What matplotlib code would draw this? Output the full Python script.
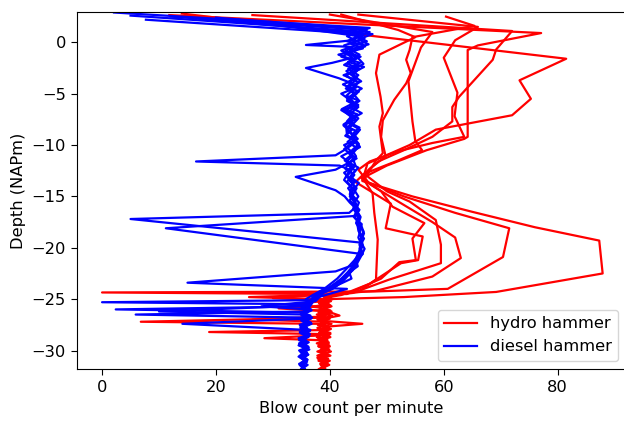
"""Blow count vs depth for hydro- and diesel-hammer driven piles."""

import matplotlib
matplotlib.use("Agg")
import matplotlib.pyplot as plt  # noqa: E402

plt.rcParams["font.size"] = 11.7

# each trace: (blow count per minute, depth NAPm)
HYDRO_A = [
    (14.0, 2.8), (81.5, -1.6), (73.3, -3.7), (75.3, -5.5), (72.0, -7.1), (58.6, -8.5),
    (54.0, -10.0), (46.6, -11.8), (45.7, -13.5), (54.5, -15.0), (65.0, -16.5), (76.0, -18.0),
    (87.3, -19.3), (87.9, -22.5), (69.2, -24.3), (53.0, -24.8), (39.5, -25.0), (38.2, -25.3),
    (40.1, -25.6), (38.8, -25.9), (39.6, -26.2), (41.7, -26.6), (39.8, -26.8), (38.5, -27.1),
    (45.7, -27.4), (38.9, -27.7), (39.4, -28.0), (38.1, -28.3), (39.9, -28.6), (38.6, -28.9),
    (39.2, -29.2), (38.0, -29.5), (39.7, -29.8), (38.4, -30.1), (39.1, -30.4), (37.8, -30.7),
    (39.5, -31.0), (38.3, -31.3), (39.0, -31.6), (38.6, -31.8),
]
HYDRO_B = [
    (26.4, 2.65), (72.0, 1.1), (69.2, -0.7), (68.6, -1.7), (62.7, -5.3), (61.5, -6.3),
    (61.5, -7.7), (58.0, -9.2), (53.0, -10.5), (48.5, -11.6), (46.5, -12.6), (45.7, -13.4),
    (53.0, -15.0), (62.0, -16.6), (71.5, -18.1), (70.4, -20.9), (60.7, -24.0), (48.0, -24.25),
    (0.0, -24.35), (38.5, -24.5), (40.2, -24.8), (38.6, -25.1), (39.8, -25.4), (37.6, -25.7),
    (39.3, -26.0), (38.0, -26.3), (40.4, -26.6), (38.7, -26.9), (39.5, -27.2), (37.9, -27.5),
    (39.9, -27.8), (38.4, -28.1), (39.2, -28.4), (37.7, -28.7), (39.6, -29.0), (38.2, -29.3),
    (40.0, -29.6), (38.8, -29.9), (39.3, -30.2), (37.8, -30.5), (39.7, -30.8), (38.5, -31.1),
    (39.4, -31.4), (38.1, -31.8),
]
HYDRO_C = [
    (11.8, 2.65), (77.1, 0.9), (66.0, -0.3), (64.2, -0.75), (64.2, -9.2), (63.6, -9.4),
    (57.0, -10.5), (50.0, -12.0), (46.5, -13.0), (50.0, -14.5), (54.0, -15.5), (58.6, -17.3),
    (59.5, -19.7), (59.5, -21.5), (50.4, -23.1), (44.0, -24.4), (39.0, -24.7), (40.5, -25.0),
    (38.3, -25.3), (39.7, -25.6), (31.0, -25.9), (40.3, -26.2), (38.2, -26.5), (39.4, -26.8),
    (6.8, -27.2), (38.0, -27.4), (39.8, -27.7), (38.5, -28.0), (40.1, -28.3), (38.9, -28.6),
    (39.5, -28.9), (38.2, -29.2), (39.9, -29.5), (38.6, -29.8), (40.2, -30.1), (38.8, -30.4),
    (39.3, -30.7), (38.0, -31.0), (39.6, -31.3), (38.7, -31.8),
]
HYDRO_D = [
    (60.4, 2.5), (65.4, 1.6), (54.5, 0.5), (54.0, -0.75), (53.4, -1.7), (54.2, -3.0),
    (53.4, -4.0), (51.3, -5.6), (49.3, -7.6), (49.0, -9.2), (49.8, -11.1), (47.0, -12.3),
    (45.5, -13.2), (49.0, -14.5), (51.0, -16.0), (56.6, -17.6), (54.5, -19.1), (55.1, -21.2),
    (52.2, -21.4), (49.0, -23.0), (43.0, -24.5), (25.8, -24.8), (39.2, -25.0), (38.0, -25.3),
    (39.9, -25.6), (33.5, -25.9), (40.0, -26.2), (37.7, -26.5), (39.1, -26.8), (38.3, -27.1),
    (40.3, -27.4), (38.8, -27.7), (39.6, -28.0), (38.1, -28.3), (39.3, -28.6), (37.9, -28.9),
    (39.8, -29.2), (38.5, -29.5), (39.4, -29.8), (37.8, -30.1), (39.7, -30.4), (38.4, -30.7),
    (40.0, -31.0), (38.6, -31.3), (39.2, -31.8),
]
HYDRO_E = [
    (42.0, 2.7), (52.0, 1.2), (55.0, 0.5), (48.7, -1.2), (48.1, -3.0), (48.9, -5.3),
    (49.3, -6.9), (48.7, -8.2), (49.3, -10.8), (48.1, -11.5), (46.0, -13.4), (47.5, -14.7),
    (47.8, -16.6), (48.4, -19.2), (48.1, -23.1), (45.0, -24.3), (38.5, -24.6), (40.0, -24.9),
    (38.7, -25.2), (33.0, -25.5), (37.9, -25.8), (40.1, -26.1), (38.6, -26.4), (39.2, -26.7),
    (37.8, -27.0), (39.7, -27.3), (38.3, -27.6), (40.2, -27.9), (38.9, -28.2), (39.5, -28.5),
    (28.5, -28.8), (38.4, -29.0), (39.8, -29.3), (38.0, -29.6), (39.3, -29.9), (38.7, -30.2),
    (40.1, -30.5), (38.2, -30.8), (39.6, -31.1), (38.5, -31.4), (39.1, -31.8),
]
HYDRO_F = [
    (40.0, 2.7), (58.0, 1.0), (56.0, -0.5), (53.8, -3.8), (54.5, -7.7), (55.0, -9.6),
    (56.2, -10.5), (52.0, -11.5), (46.0, -12.8), (44.5, -13.6), (50.7, -15.7), (49.8, -18.1),
    (56.3, -18.9), (55.5, -21.2), (52.5, -21.5), (47.0, -23.5), (42.0, -24.6), (38.9, -24.9),
    (40.2, -25.2), (38.3, -25.5), (39.5, -25.8), (38.0, -26.1), (40.0, -26.4), (38.6, -26.7),
    (26.4, -27.0), (39.1, -27.2), (37.9, -27.5), (39.6, -27.8), (38.2, -28.1), (40.1, -28.4),
    (38.7, -28.7), (39.3, -29.0), (37.7, -29.3), (39.8, -29.6), (38.4, -29.9), (39.0, -30.2),
    (38.1, -30.5), (39.5, -30.8), (38.8, -31.1), (39.9, -31.4), (38.3, -31.8),
]
HYDRO_G = [
    (45.0, 2.7), (66.0, 1.5), (62.0, 0.2), (60.0, -1.5), (62.4, -4.9), (61.9, -7.2),
    (63.6, -9.2), (58.0, -9.8), (52.0, -10.6), (47.0, -11.6), (45.0, -12.4), (47.0, -13.8),
    (52.0, -15.5), (58.0, -17.5), (62.0, -19.0), (63.0, -21.0), (58.0, -22.8), (48.0, -24.2),
    (30.0, -24.9), (39.4, -25.1), (38.1, -25.4), (40.3, -25.7), (38.8, -26.0), (39.6, -26.3),
    (38.0, -26.6), (40.0, -26.9), (38.5, -27.2), (39.2, -27.5), (37.8, -27.8), (39.7, -28.0),
    (18.8, -28.2), (38.6, -28.4), (40.1, -28.7), (38.3, -29.0), (39.5, -29.3), (38.0, -29.6),
    (39.9, -29.9), (38.7, -30.2), (39.2, -30.5), (37.9, -30.8), (39.6, -31.1), (38.4, -31.4),
    (39.0, -31.8),
]

DIESEL_A = [
    (2.1, 2.9), (47.0, 1.4), (44.2, 0.9), (46.1, 0.4), (43.5, -0.1), (45.8, -0.6),
    (42.7, -1.0), (44.9, -1.5), (43.1, -2.1), (45.3, -2.6), (42.4, -3.2), (44.6, -3.7),
    (43.0, -4.3), (45.1, -4.8), (43.6, -5.4), (44.2, -5.9), (42.1, -6.5), (44.8, -7.0),
    (43.3, -7.6), (42.6, -8.1), (44.9, -8.7), (43.7, -9.2), (44.3, -9.8), (42.8, -10.4),
    (41.0, -11.0), (16.5, -11.6), (41.7, -12.0), (43.8, -12.5), (42.9, -13.1), (44.4, -13.6),
    (43.2, -14.2), (44.0, -14.8), (43.5, -15.4), (44.6, -16.0), (43.4, -16.6), (5.0, -17.2),
    (45.5, -19.5), (45.2, -20.1), (45.8, -20.6), (44.6, -21.2), (44.9, -21.8), (43.4, -22.4),
    (43.8, -23.0), (41.5, -23.6), (39.8, -24.1), (38.0, -24.5), (36.8, -25.1), (0.0, -25.3),
    (36.5, -25.5), (35.2, -25.8), (36.8, -26.1), (35.5, -26.4), (36.2, -26.7), (34.9, -27.0),
    (36.6, -27.3), (35.3, -27.6), (36.0, -27.9), (34.7, -28.2), (36.4, -28.5), (35.1, -28.8),
    (35.9, -29.1), (34.6, -29.4), (36.3, -29.7), (35.0, -30.0), (35.8, -30.3), (34.5, -30.6),
    (36.1, -30.9), (35.2, -31.2), (35.7, -31.5), (35.0, -31.8),
]
DIESEL_B = [
    (7.7, 2.2), (46.0, 0.8), (44.0, 0.2), (35.8, -0.26), (44.0, -0.45), (42.6, -0.9),
    (45.4, -1.4), (43.2, -1.9), (46.0, -2.4), (43.9, -3.0), (44.8, -3.5), (42.3, -4.1),
    (44.1, -4.6), (42.9, -5.2), (45.2, -5.7), (43.6, -6.3), (45.6, -6.9), (44.0, -7.4),
    (42.4, -8.0), (43.9, -8.5), (42.7, -9.1), (44.6, -9.6), (45.3, -10.2), (43.3, -10.8),
    (44.7, -11.3), (43.0, -11.9), (44.5, -12.5), (43.6, -13.1), (45.1, -13.7), (44.2, -14.3),
    (45.0, -15.0), (44.1, -15.7), (45.2, -16.3), (44.5, -16.9), (11.2, -18.1), (45.5, -20.6),
    (44.8, -21.2), (44.0, -21.8), (43.1, -22.4), (42.0, -23.0), (40.2, -23.8), (38.0, -24.5),
    (36.5, -25.7), (2.4, -26.0), (36.0, -26.3), (35.0, -26.6), (36.7, -26.9), (35.4, -27.2),
    (36.3, -27.5), (34.8, -27.8), (36.5, -28.1), (35.6, -28.4), (36.2, -28.7), (34.6, -29.0),
    (36.0, -29.3), (35.3, -29.6), (36.4, -29.9), (34.9, -30.2), (35.8, -30.5), (35.1, -30.8),
    (36.0, -31.1), (34.7, -31.4), (35.5, -31.8),
]
DIESEL_C = [
    (5.0, 2.6), (47.0, 1.0), (45.0, 0.5), (46.5, 0.1), (42.0, -0.8), (44.0, -1.5),
    (40.4, -2.0), (35.8, -2.5), (41.6, -3.5), (43.9, -4.0), (42.8, -4.5), (44.7, -5.0),
    (43.4, -5.6), (45.0, -6.1), (42.0, -6.6), (43.8, -7.2), (43.0, -7.7), (45.2, -8.3),
    (44.0, -8.9), (44.9, -9.4), (42.5, -10.0), (43.7, -10.6), (42.0, -11.1), (43.4, -11.7),
    (41.0, -12.4), (34.0, -13.1), (41.0, -14.4), (42.6, -15.0), (43.5, -15.6), (44.8, -16.3),
    (44.2, -17.0), (45.6, -17.7), (45.1, -18.4), (46.0, -19.1), (45.3, -19.8), (45.7, -20.5),
    (44.4, -21.2), (44.0, -21.7), (41.0, -22.3), (15.0, -23.4), (43.0, -24.0), (38.0, -24.8),
    (36.6, -25.4), (36.2, -26.2), (5.9, -26.5), (36.0, -26.8), (35.1, -27.1), (36.8, -27.4),
    (35.5, -27.7), (36.1, -28.0), (34.8, -28.3), (36.4, -28.6), (35.2, -28.9), (36.0, -29.2),
    (34.5, -29.5), (35.9, -29.8), (35.3, -30.1), (36.2, -30.4), (34.8, -30.7), (35.7, -31.0),
    (35.0, -31.3), (35.6, -31.8),
]
DIESEL_D = [
    (12.0, 2.5), (46.5, 1.2), (43.0, 0.6), (44.8, 0.1), (46.2, -0.4), (43.5, -0.9),
    (44.9, -1.5), (45.9, -2.1), (44.0, -2.7), (42.9, -3.3), (45.1, -3.9), (43.8, -4.5),
    (44.4, -5.1), (43.0, -5.7), (45.0, -6.3), (43.7, -6.9), (44.5, -7.5), (42.4, -8.1),
    (43.6, -8.7), (44.2, -9.3), (45.1, -9.9), (43.9, -10.5), (44.6, -11.1), (43.4, -11.7),
    (42.7, -12.3), (44.3, -12.9), (43.5, -13.5), (44.7, -14.2), (44.0, -14.9), (45.1, -15.6),
    (44.6, -16.3), (45.4, -17.0), (45.0, -17.7), (45.9, -18.4), (45.5, -19.1), (45.8, -19.8),
    (45.1, -20.5), (44.7, -21.2), (44.1, -21.9), (43.4, -22.6), (42.2, -23.3), (40.5, -24.0),
    (38.0, -24.6), (36.9, -25.2), (35.4, -25.6), (36.7, -26.0), (35.2, -26.4), (35.8, -26.9),
    (14.1, -27.4), (36.0, -28.0), (34.9, -28.3), (36.3, -28.6), (35.4, -28.9), (36.1, -29.2),
    (34.7, -29.5), (35.8, -29.8), (35.0, -30.1), (36.2, -30.4), (35.3, -30.7), (35.9, -31.0),
    (34.6, -31.3), (35.4, -31.8),
]
DIESEL_E = [
    (17.0, 2.3), (47.5, 0.8), (45.0, 0.3), (46.8, -0.2), (43.5, -0.7), (45.2, -1.2),
    (43.9, -1.7), (44.8, -2.3), (42.9, -2.8), (44.3, -3.4), (43.2, -3.9), (45.6, -4.5),
    (44.1, -5.0), (45.0, -5.6), (43.7, -6.2), (42.8, -6.7), (44.2, -7.3), (43.4, -7.9),
    (45.3, -8.5), (44.4, -9.1), (43.1, -9.7), (44.8, -10.3), (43.9, -10.9), (42.6, -11.5),
    (44.0, -12.1), (42.5, -12.7), (43.7, -13.4), (44.3, -14.1), (43.6, -14.8), (44.5, -15.5),
    (44.1, -16.2), (45.0, -16.9), (44.6, -17.6), (45.4, -18.3), (45.0, -19.0), (45.6, -19.7),
    (45.1, -20.4), (44.5, -21.1), (43.0, -22.0), (41.3, -23.0), (39.0, -24.0), (37.0, -24.6),
    (35.8, -25.0), (36.5, -25.6), (10.0, -26.2), (35.6, -26.5), (36.9, -26.8), (35.0, -27.1),
    (36.2, -27.4), (34.9, -27.7), (36.6, -28.0), (35.3, -28.3), (36.0, -28.6), (34.6, -28.9),
    (36.3, -29.2), (35.1, -29.5), (35.7, -29.8), (34.8, -30.1), (36.1, -30.4), (35.4, -30.7),
    (35.9, -31.0), (34.9, -31.3), (35.6, -31.8),
]
DIESEL_F = [
    (20.0, 2.4), (46.0, 1.3), (44.5, 0.8), (45.9, 0.3), (42.5, -0.3), (44.0, -0.9),
    (42.0, -1.4), (45.3, -2.0), (43.2, -2.6), (45.0, -3.2), (43.5, -3.8), (44.6, -4.4),
    (42.0, -5.0), (43.5, -5.6), (44.9, -6.2), (43.1, -6.8), (45.0, -7.4), (44.0, -8.0),
    (43.0, -8.6), (44.5, -9.2), (43.8, -9.8), (42.5, -10.4), (44.0, -11.0), (43.0, -11.6),
    (45.0, -12.2), (43.8, -12.9), (43.0, -13.6), (44.2, -14.3), (43.5, -15.0), (44.6, -15.7),
    (45.0, -16.4), (44.4, -17.1), (45.5, -17.8), (46.0, -18.6), (45.4, -19.4), (46.1, -20.1),
    (45.5, -20.8), (44.8, -21.5), (44.0, -22.2), (42.0, -23.2), (39.0, -24.3), (37.5, -25.2),
    (28.0, -25.7), (36.0, -26.0), (35.1, -26.3), (36.6, -26.6), (35.4, -26.9), (36.3, -27.2),
    (34.7, -27.5), (36.0, -27.8), (35.2, -28.1), (36.5, -28.4), (35.0, -28.7), (35.8, -29.0),
    (34.6, -29.3), (36.2, -29.6), (35.3, -29.9), (36.0, -30.2), (34.7, -30.5), (35.9, -30.8),
    (35.2, -31.1), (36.1, -31.4), (35.0, -31.8),
]
DIESEL_G = [
    (24.0, 2.2), (45.0, 0.6), (43.0, 0.1), (46.0, -0.3), (44.5, -0.8), (41.5, -1.2),
    (44.0, -1.7), (42.5, -2.2), (44.9, -2.7), (44.0, -3.2), (45.5, -3.8), (43.0, -4.4),
    (44.2, -5.0), (43.0, -5.5), (44.5, -6.1), (42.5, -6.7), (43.6, -7.2), (44.0, -7.8),
    (42.9, -8.4), (43.0, -9.0), (44.4, -9.6), (45.0, -10.2), (43.5, -10.8), (44.1, -11.4),
    (44.5, -12.0), (43.2, -12.7), (42.5, -13.4), (43.8, -14.1), (43.5, -14.8), (44.2, -15.5),
    (44.5, -16.2), (45.2, -16.9), (44.8, -17.6), (45.0, -18.3), (45.5, -19.0), (45.2, -19.7),
    (45.6, -20.4), (44.5, -21.1), (44.0, -21.8), (43.5, -22.5), (42.0, -23.1), (40.0, -23.8),
    (37.0, -24.8), (36.2, -25.4), (35.0, -25.8), (36.4, -26.1), (34.9, -26.4), (36.1, -26.7),
    (35.5, -27.0), (36.7, -27.3), (34.8, -27.6), (35.9, -27.9), (35.1, -28.2), (36.2, -28.5),
    (34.5, -28.8), (35.7, -29.1), (35.0, -29.4), (36.0, -29.7), (34.6, -30.0), (35.5, -30.3),
    (35.1, -30.6), (36.0, -30.9), (34.9, -31.2), (35.4, -31.5), (35.2, -31.8),
]

HYDRO = [HYDRO_A, HYDRO_B, HYDRO_C, HYDRO_D, HYDRO_E, HYDRO_F, HYDRO_G]
DIESEL = [DIESEL_A, DIESEL_B, DIESEL_C, DIESEL_D, DIESEL_E, DIESEL_F, DIESEL_G]


fig = plt.figure(figsize=(6.24, 4.21), dpi=100)
ax = fig.add_axes([77 / 624, 52 / 421, 549 / 624, 357 / 421])

for i, trace in enumerate(HYDRO):
    xs = [p[0] for p in trace]
    ys = [p[1] for p in trace]
    ax.plot(xs, ys, color="red", lw=1.6, label="hydro hammer" if i == 0 else None)
for i, trace in enumerate(DIESEL):
    xs = [p[0] for p in trace]
    ys = [p[1] for p in trace]
    ax.plot(xs, ys, color="blue", lw=1.6, label="diesel hammer" if i == 0 else None)

ax.set_xlim(-4.4, 92.0)
ax.set_ylim(-31.8, 2.95)
ax.set_xticks([0, 20, 40, 60, 80])
ax.set_yticks([0, -5, -10, -15, -20, -25, -30])
ax.tick_params(length=4.5)
ax.set_xlabel("Blow count per minute")
ax.set_ylabel("Depth (NAPm)")
ax.legend(loc="lower right")

fig.savefig("out.png", dpi=100)
